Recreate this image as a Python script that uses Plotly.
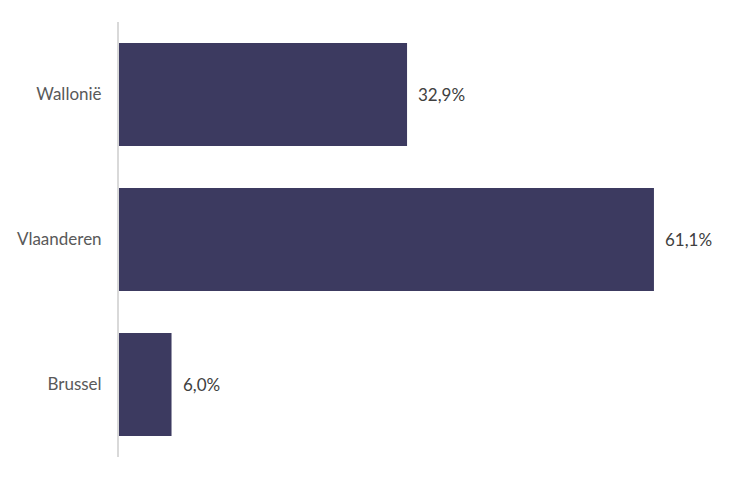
import plotly.graph_objects as go

categories = ["Wallonië", "Vlaanderen", "Brussel"]
values = [32.9, 61.1, 6.0]
labels = ["32,9%", "61,1%", "6,0%"]

bar_color = "#3c3a60"
font_family = "Lato"

fig = go.Figure()
fig.add_trace(go.Bar(
    y=categories, x=values, orientation="h",
    marker=dict(color=bar_color, line=dict(width=0)),
    hoverinfo="skip",
))

for c, v, t in zip(categories, values, labels):
    fig.add_annotation(x=v, y=c, text=t, showarrow=False, xanchor="left",
                       xshift=9, font=dict(family=font_family, size=17, color="#404040"))

fig.update_layout(
    width=745, height=472,
    margin=dict(l=111, r=22, t=14, b=23),
    paper_bgcolor="white", plot_bgcolor="white",
    showlegend=False,
    bargap=0.29,
    font=dict(family=font_family, size=17, color="#595959"),
)
fig.update_xaxes(range=[0, 69.9], visible=False, showgrid=False, zeroline=False)
fig.update_yaxes(categoryorder="array", categoryarray=categories[::-1],
                 showline=True, linecolor="#d9d9d9", linewidth=2,
                 showgrid=False, zeroline=False, ticks="", ticklabelstandoff=12,
                 automargin=False,
                 tickfont=dict(family=font_family, size=17, color="#595959"))

fig.write_html("out.html")
